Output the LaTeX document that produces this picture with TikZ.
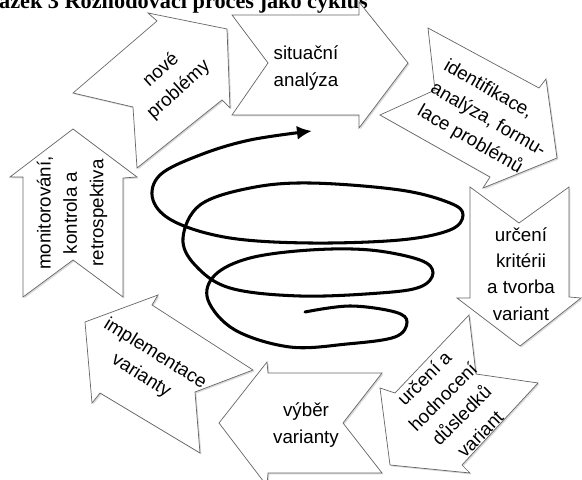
\documentclass[tikz,border=0pt]{standalone}
\usepackage{fontspec}
\setmainfont{Liberation Sans}
\newfontfamily\titlefont{Liberation Serif}
\usetikzlibrary{arrows.meta,shadows}
\begin{document}
\begin{tikzpicture}[x=0.03cm,y=-0.03cm]
    \tikzset{
        box/.style={draw=gray!80!black, line width=0.6pt, fill=white,
            drop shadow={opacity=0.3, shadow xshift=1.2pt, shadow yshift=-1.2pt}},
        txt/.style={align=center, font=\fontsize{16}{22.5}\selectfont, inner sep=0pt},
        spiral/.style={line width=2.6pt, line cap=round, -{Latex[length=4.5mm,width=4.2mm]}}
    }
    \useasboundingbox (0,0) rectangle (582,480);
    \clip (0,0) rectangle (582,480);

    % title, cut at the top
    \draw node[anchor=base east, font=\titlefont\bfseries\fontsize{19}{23}\selectfont] (title) at (372,9) {Obrázek 3 Rozhodovací proces jako cyklus};

    % the eight arrows of the cycle
    \draw[box] (232,15) -- (359,15) -- (359,2) -- (408,63) -- (359,128) -- (359,115) -- (232,115) -- (268,63) -- cycle;
    \draw[box] (428,28) -- (539,88) -- (546,79) -- (557,158) -- (483,188) -- (490,177) -- (380,115) -- (435,90) -- cycle;
    \draw[box] (470,187) -- (519,223) -- (569,187) -- (569,297) -- (581,298) -- (520,346) -- (457,298) -- (470,298) -- cycle;
    \draw[box] (469,315) -- (476,374) -- (538,383) -- (462,465) -- (470,473) -- (390,465) -- (380,388) -- (395,393) -- cycle;
    \draw[box] (382,373) -- (343,423) -- (382,473) -- (268,473) -- (267,486) -- (219,423) -- (267,362) -- (268,373) -- cycle;
    \draw[box] (85,322) -- (158,295) -- (152,305) -- (253,370) -- (195,392) -- (200,453) -- (100,393) -- (92,403) -- cycle;
    \draw[box] (73,129) -- (137,177) -- (123,178) -- (123,297) -- (73,260) -- (23,297) -- (23,177) -- (10,177) -- cycle;
    \draw[box] (148,13) -- (227,29) -- (230,108) -- (222,100) -- (137,168) -- (133,107) -- (73,93) -- (157,21) -- cycle;

    \draw node[txt] (sit) at (306,68) {situační\\analýza};
    \draw node[txt, align=left, rotate=-30] (ident) at (488,120) {identifikace,\\analýza, formu-\\lace problémů};
    \draw node[txt] (krit) at (521,274) {určení\\kritérii\\a tvorba\\variant};
    \draw node[txt, rotate=45] (dusl) at (452,406) {určení a\\hodnocení\\důsledků\\variant};
    \draw node[txt] (vyber) at (306,425) {výběr\\varianty};
    \draw node[txt, rotate=-32] (impl) at (148,365) {implementace\\varianty};
    \draw node[txt, rotate=90] (monit) at (72,213) {monitorování,\\kontrola a\\retrospektiva};
    \draw node[txt, rotate=42] (nove) at (170,80) {nové\\problémy};

    % spiral in the middle
    \draw[spiral] plot[smooth, tension=0.6] coordinates {
        (305,312) (350,306) (395,312) (407,322) (395,337) (347,344) (290,347)
        (235,330) (208,300) (215,275) (250,258) (310,250) (370,250) (420,260)
        (433,273) (420,287) (380,293) (300,296) (230,288) (195,265) (183,238)
        (200,205) (250,188) (310,183) (400,190) (450,203) (463,215) (450,230)
        (400,240) (310,243) (230,238) (175,222) (153,200) (160,175) (200,155)
        (250,140) (312,131)};
\end{tikzpicture}
\end{document}
